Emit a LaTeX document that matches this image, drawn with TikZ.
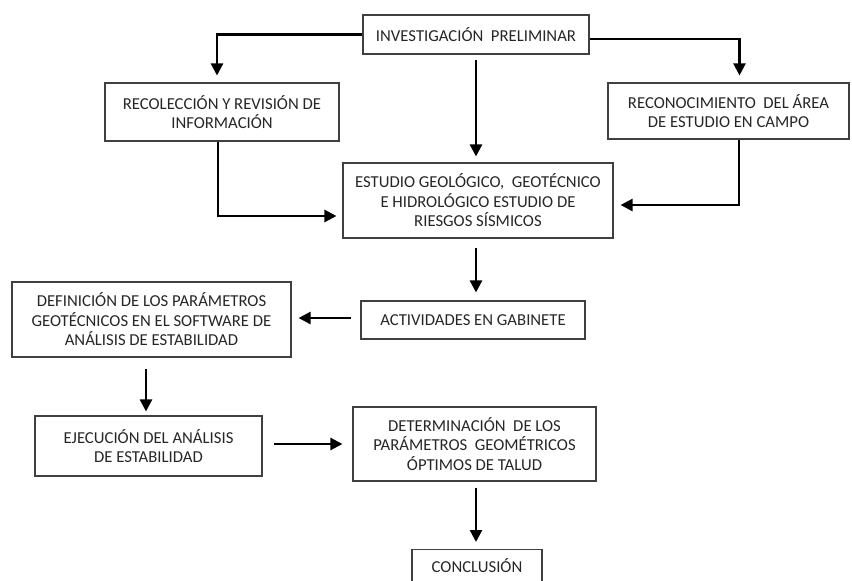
\documentclass[tikz,border=0pt]{standalone}
\usepackage{fontspec}
\setmainfont{Carlito}
\usetikzlibrary{arrows.meta,calc}

\begin{document}
\begin{tikzpicture}[x=1pt, y=-1pt,
    box/.style = {draw=black!75, line width=1.1pt, align=center, inner sep=0pt, text=black!85, font=\fontsize{16.7}{19.5}\selectfont},
    arr/.style = {-{Triangle[length=12pt, width=12pt]}, line width=2.4pt}]
    \useasboundingbox (0,0) rectangle (852,581);

    \node[box, minimum width=226pt, minimum height=39pt] (inv) at (476,34.5) {INVESTIGACIÓN~ PRELIMINAR};
    \node[box, minimum width=234pt, minimum height=58pt] (rec) at (222,112) {RECOLECCIÓN Y REVISIÓN DE\\INFORMACIÓN};
    \node[box, minimum width=241pt, minimum height=56pt] (recon) at (728.5,111) {RECONOCIMIENTO~ DEL ÁREA\\DE ESTUDIO EN CAMPO};
    \node[box, minimum width=270pt, minimum height=75pt] (est) at (478,200.5) {ESTUDIO GEOLÓGICO,~ GEOTÉCNICO\\E HIDROLÓGICO ESTUDIO DE\\RIESGOS SÍSMICOS};
    \node[box, minimum width=224pt, minimum height=38pt] (act) at (473,320) {ACTIVIDADES EN GABINETE};
    \node[box, minimum width=279pt, minimum height=75pt] (def) at (151.5,319.5) {DEFINICIÓN DE LOS PARÁMETROS\\GEOTÉCNICOS EN EL SOFTWARE DE\\ANÁLISIS DE ESTABILIDAD};
    \node[box, minimum width=227pt, minimum height=60pt] (eje) at (148.5,446) {EJECUCIÓN DEL ANÁLISIS\\DE ESTABILIDAD};
    \node[box, minimum width=243pt, minimum height=74pt] (det) at (474.5,444) {DETERMINACIÓN~ DE LOS\\PARÁMETROS~ GEOMÉTRICOS\\ÓPTIMOS DE TALUD};
    % bottom of this box runs off the page
    \node[box, minimum width=130pt, text height=23pt, text depth=40pt, anchor=north] (con) at (477,549) {CONCLUSIÓN};

    \draw[arr, shorten >=7pt] (inv.west) -| ($(rec.north)+(-5,0)$);
    \draw[arr, shorten >=7pt] ($(inv.east)+(0,4.5)$) -| ($(recon.north)+(11,0)$);
    \draw[arr, shorten <=5pt, shorten >=6pt] (inv.south) -- (inv.south |- est.north);
    \draw[arr, shorten >=6pt] ($(rec.south)+(-4,0)$) |- ($(est.west)+(0,15.5)$);
    \draw[arr, shorten >=7pt] ($(recon.south)+(10.5,0)$) |- ($(est.east)+(0,4.5)$);
    \draw[arr, shorten <=9pt, shorten >=8pt] ($(est.south)+(-2,0)$) -- ($(act.north)+(3,0)$);
    \draw[arr, shorten <=9pt, shorten >=7pt] ($(act.west)+(0,-2)$) -- ($(def.east)+(0,-1.5)$);
    \draw[arr, shorten <=11pt, shorten >=4pt] ($(def.south)+(-5.5,0)$) -- ($(eje.north)+(-2.5,0)$);
    \draw[arr, shorten <=11pt, shorten >=10pt] ($(eje.east)+(0,-2)$) -- (det.west);
    \draw[arr, shorten <=6pt, shorten >=7pt] ($(det.south)+(1.5,0)$) -- ($(con.north)+(-1,0)$);

\end{tikzpicture}
\end{document}
